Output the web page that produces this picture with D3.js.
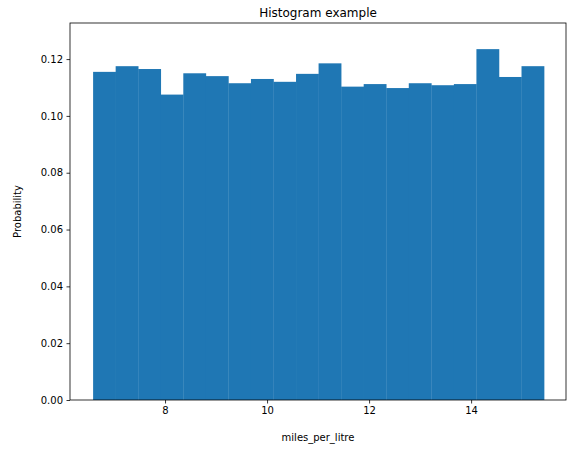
<!DOCTYPE html>
<html><head><meta charset="utf-8">
<script src="https://cdn.jsdelivr.net/npm/d3@7"></script>
<style>body{margin:0;background:#fff}text{font-family:"DejaVu Sans",sans-serif}</style>
</head><body><svg id="c" width="576" height="453"></svg>
<script>
const binStart = 6.59, binEnd = 15.43;
const probabilities = [0.1155,0.1175,0.1165,0.1075,0.1150,0.1140,0.1115,0.1130,0.1120,0.1148,0.1185,0.1103,0.1112,0.1098,0.1115,0.1108,0.1112,0.1235,0.1137,0.1175];
const xTicks = [8,10,12,14];
const yTicks = [0,0.02,0.04,0.06,0.08,0.10,0.12];

const svg = d3.select("#c");
const L=70,R=566,T=23,B=400;
const x = d3.scaleLinear().domain([6.137,15.86]).range([L,R]);
const y = d3.scaleLinear().domain([0,0.1327]).range([B,T]);
const w = (binEnd-binStart)/probabilities.length;
svg.selectAll("rect.bar").data(probabilities).join("rect")
  .attr("x",(d,i)=>x(binStart+i*w)).attr("width",(d,i)=>x(binStart+(i+1)*w)-x(binStart+i*w)+0.3)
  .attr("y",d=>y(d)).attr("height",d=>B-y(d)).attr("fill","#1f77b4");
svg.append("rect").attr("x",L).attr("y",T).attr("width",R-L).attr("height",B-T)
  .attr("fill","none").attr("stroke","#000").attr("stroke-width",0.8);
const xa = svg.append("g").attr("transform",`translate(0,${B})`)
  .call(d3.axisBottom(x).tickValues(xTicks).tickSize(3.5).tickPadding(3.5).tickFormat(d3.format("d")));
const ya = svg.append("g").attr("transform",`translate(${L},0)`)
  .call(d3.axisLeft(y).tickValues(yTicks).tickSize(3.5).tickPadding(3.5).tickFormat(d3.format(".2f")));
[xa,ya].forEach(a=>{a.select(".domain").remove();a.selectAll("text").attr("font-size",10).attr("fill","#000");a.selectAll("line").attr("stroke","#000").attr("stroke-width",0.8);});
svg.append("text").attr("x",(L+R)/2).attr("y",T-6).attr("text-anchor","middle").attr("font-size",12).text("Histogram example");
svg.append("text").attr("x",(L+R)/2).attr("y",441).attr("text-anchor","middle").attr("font-size",10).text("miles_per_litre");
svg.append("text").attr("transform",`translate(21,${(T+B)/2}) rotate(-90)`).attr("text-anchor","middle").attr("font-size",10).text("Probability");
</script></body></html>
